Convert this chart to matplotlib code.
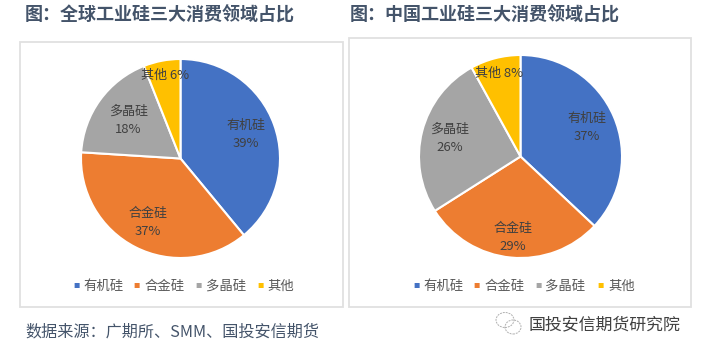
import math
import matplotlib
matplotlib.use("Agg")
import matplotlib.pyplot as plt
from matplotlib.patches import Ellipse, Rectangle

plt.rcParams['font.family'] = ['Noto Sans CJK SC', 'DejaVu Sans']

W, H = 703, 355

categories = ['有机硅', '合金硅', '多晶硅', '其他']
global_values = [39, 37, 18, 6]
china_values = [37, 29, 26, 8]
colors = ['#4472C4', '#ED7D31', '#A5A5A5', '#FFC000']

# how far out each label sits, as a share of the radius
global_label_dist = [0.70, 0.72, 0.65, 0.85]
china_label_dist = [0.71, 0.80, 0.72, 0.85]


def draw_pie(fig, values, title, title_x, box, center, radius, label_dist, legend_xs):
    # box is left, top, right, bottom in pixels
    fig.add_artist(Rectangle((box[0] / W, 1 - box[3] / H), (box[2] - box[0]) / W, (box[3] - box[1]) / H,
                             transform=fig.transFigure, fc='white', ec='#E0E0E0', lw=1.3, zorder=-1))
    fig.text(title_x / W, 1 - 15 / H, title, fontsize=13, fontweight='bold', color='#44546A', va='center')

    ax = fig.add_axes([(center[0] - radius) / W, 1 - (center[1] + radius) / H, 2 * radius / W, 2 * radius / H])
    wedges, _ = ax.pie(values, colors=colors, startangle=90, counterclock=False, radius=1,
                       wedgeprops=dict(edgecolor='white', linewidth=1.5))
    ax.set_xlim(-1, 1)
    ax.set_ylim(-1, 1)

    for w, c, v, d in zip(wedges, categories, values, label_dist):
        mid = math.radians((w.theta1 + w.theta2) / 2)
        # the small slice keeps its label on one line
        label = f'{c} {v}%' if c == '其他' else f'{c}\n{v}%'
        ax.text(d * math.cos(mid), d * math.sin(mid), label, fontsize=9.4, color='#404040',
                ha='center', va='center', linespacing=1.5)

    for c, col, x in zip(categories, colors, legend_xs):
        fig.text(x / W, 1 - 286 / H, '■', fontsize=4.5, color=col, va='center', ha='center')
        fig.text((x + 7.5) / W, 1 - 286 / H, c, fontsize=9.6, color='#595959', va='center')


fig = plt.figure(figsize=(W / 100, H / 100), dpi=100)

draw_pie(fig, global_values, '图：全球工业硅三大消费领域占比', 25, (20, 42, 343, 307), (180.5, 158.5), 99.5,
         global_label_dist, [76, 137, 198, 260])
draw_pie(fig, china_values, '图：中国工业硅三大消费领域占比', 350, (349, 38, 691, 307), (520.5, 156.5), 101.5,
         china_label_dist, [416, 477, 538, 601])

fig.text(25 / W, 1 - 332 / H, '数据来源：广期所、SMM、国投安信期货', fontsize=11.6, style='italic', color='#44546A', va='center')

# wechat logo, two outlined bubbles
for cx, cy, ew, eh in [(505, 320, 18, 15), (513, 327, 16, 14)]:
    fig.add_artist(Ellipse((cx / W, 1 - cy / H), ew / W, eh / H, transform=fig.transFigure,
                           fc='none', ec='#B0B0B0', lw=0.7, ls=(0, (2, 1))))
fig.text(529 / W, 1 - 324 / H, '国投安信期货研究院', fontsize=12.2, color='#404040', va='center')

fig.savefig('out.png', dpi=100)
